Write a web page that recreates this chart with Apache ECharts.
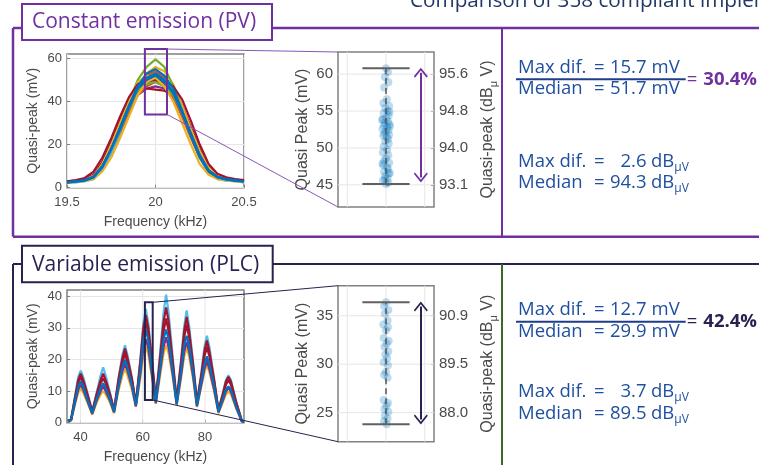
<!DOCTYPE html>
<html><head><meta charset="utf-8">
<script src="https://cdn.jsdelivr.net/npm/echarts@6.0.0/dist/echarts.min.js"></script>
<style>html,body{margin:0;padding:0;background:#fff;overflow:hidden}#chart{width:759px;height:465px}</style>
</head><body><div id="chart"></div>
<script>
// ================= DATA =================
// Constant emission (PV): frequency grid (kHz) and quasi-peak curves (mV)
const pvFreq = [19.50,19.55,19.60,19.65,19.70,19.75,19.80,19.85,19.90,19.95,20.00,20.05,20.10,20.15,20.20,20.25,20.30,20.35,20.40,20.45,20.50];
const pvCurveA = [3.0,3.3,3.8,6.0,12,21,31,41,47,50,51,49,46,38,28,18,10,6.0,4.5,3.8,3.3];
const pvCurveB = [2.8,3.0,3.5,5.0,9.0,17,26,36,47,53,56,54,48,38,27,17,9.0,5.0,4.0,3.8,3.2];
const pvCurveC = [3.0,3.2,3.8,5.5,11,19,29,39,48,52,54,51,46,36,26,16,9.0,5.5,4.0,3.5,3.0];
const pvCurveD = [2.7,3.0,3.4,5.0,10,19,29,40,50,56,59.5,56,47,37,26,16,8.5,5.0,4.0,3.4,3.0];
const pvCurveE = [2.5,2.8,3.2,4.5,9.0,16,25,35,43,46,47,46,42,34,24,14,7.0,4.5,3.8,3.2,2.8];
const pvCurveF = [2.2,2.5,3.0,4.0,8.5,16,25,35,44,48,50,48,43,34,24,14,7.0,4.0,3.3,3.0,2.5];
const pvCurveG = [2.8,3.2,3.8,5.8,11.5,20,30,39,45,46,45.5,45,43,36,27,17,9.0,5.5,4.2,3.6,3.1];
const pvCurveH = [2.6,3.0,3.5,5.0,9.0,17,26,35,43,47,49,47,42,33,23,14,7.5,4.8,3.9,3.4,3.0];
const pvCurveI = [3.0,3.2,3.8,5.5,11,20,30,40,49,52,51,50,45,37,27,17,9.5,5.5,4.2,3.6,3.2];
const pvCurveJ = [2.8,3.1,3.6,5.2,10,18,27,37,45,49,50,48,44,35,25,15,8.0,5.0,3.9,3.4,3.0];
const pvCurveK = [2.6,2.9,3.4,4.9,9.5,18,27,37,45,48,49,47,43,35,25,15,8.0,5.0,3.9,3.3,2.9];
const pvCurveP = [3.0,3.5,4.5,7.5,14,23,33,42,48,50,50,49,47,41,31,20,11,6.5,4.8,4.0,3.5];
const pvCurveQ = [2.3,2.6,3.0,4.0,7.5,14,23,33,43,49,51,47,40,30,20,11,6.0,4.0,3.3,2.9,2.5];
const pvCurveL = [2.4,2.8,3.2,4.6,9.0,17,27,37,46,51,52,50,44,35,25,15,8.0,4.8,3.6,3.1,2.7];
const pvCurveM = [2.5,2.8,3.3,4.8,9.5,18,28,38,47,53,55,52,46,36,25,15,8.0,5.0,3.8,3.3,2.9];
const pvCurveN = [2.5,2.9,3.4,5.0,10,18,28,38,47,51,53,50,44,35,24,14,7.5,4.8,3.8,3.3,2.9];
const pvCurveO = [2.5,3.0,3.5,5.0,10,18,27,37,46,50,52,49,44,35,25,15,8.0,5.0,4.0,3.5,3.0];
const pvCurves = [pvCurveA,pvCurveB,pvCurveC,pvCurveD,pvCurveE,pvCurveF,pvCurveG,pvCurveH,pvCurveI,pvCurveJ,pvCurveK,pvCurveP,pvCurveQ,pvCurveL,pvCurveM,pvCurveN,pvCurveO];
const pvCurveColors = ['red','yellow','orange','green','purple','cyan','red','orange','yellow','purple','green','red','yellow','cyan','blue','blue','blue'];

// Variable emission (PLC)
const plcFreq = [36.0,37.0, 38.2,39.3,40.1,40.9,42.4,43.8, 45.2,46.5,47.3,48.1,49.5,50.8, 52.2,53.5,54.3,55.1,56.5,57.8, 59.3,60.2,61.0,61.8,63.0,64.2, 65.6,66.7,67.5,68.3,69.6,70.9, 72.3,73.3,74.1,74.9,76.2,77.4, 78.8,79.8,80.6,81.4,82.9,84.3, 85.7,86.7,87.5,88.3,90.0,91.8, 92.5];
const plcCurveMax  = [0.6,1.0, 8,14.5,16.5,14.5,9,3.5, 9.5,15,17.5,15,9.5,4, 14,21.5,24.5,21.5,14.5,6, 21,31.5,36,31.5,20,7.5, 22.5,35,40.5,35,21,7, 20,30.5,35.5,30.5,19,6.5, 16,24,27.5,24,14,4, 9.5,13.5,15,13.5,6.5,0.6, 0.4];
const plcCurveLow  = [0.4,0.7, 5.5,9.5,10.8,9.5,6,2.6, 6.3,9,10,9,6.3,3, 10,15,17,15,10.5,5, 14.5,21.5,24,21.5,14,6, 15,22,24.6,22,14.5,5.5, 14,21,23.6,21,13.5,5, 11.5,16,18.3,16,10,3, 6.5,9,9.8,9,4.5,0.4, 0.3];
const plcCurvePur  = [0.5,0.8, 6,10.5,12,10.5,6.5,2.8, 7,10,11.5,10,7,3.3, 11,16.5,18.5,16.5,11.5,5.2, 16,23.5,26.5,23.5,15,6.2, 16.5,24,27,24,15.5,5.8, 15,22.5,25.5,22.5,14.5,5.2, 12,17,19.5,17,10.5,3.3, 7,9.8,11,9.8,4.8,0.4, 0.3];
const plcCurveHigh = [0.6,1.0, 7.5,13.5,15.5,13.5,8.5,3.5, 9,13.5,15.5,13.5,9,4, 13.5,20.5,23.5,20.5,14,6, 20,30,34,30,19,7.5, 21,32,36.5,32,19.5,7, 19,29,33.5,29,18,6.5, 15,22.5,26,22.5,13.5,4, 9,13,14.5,13,6.5,0.6, 0.4];
const plcCurveMidR = [0.5,0.9, 7,12.5,14.5,12.5,8,3.2, 8.5,12.5,14,12.5,8.5,3.8, 12.5,19,22,19,13.5,5.8, 19,28,32,28,18,7, 19.5,29,33,29,18.5,6.5, 18,27,31,27,17,6, 14.5,21,24,21,13,3.8, 8.5,12,13.5,12,6,0.5, 0.3];
const plcCurveMed  = [0.5,0.8, 6.5,11.5,13,11.5,7,3, 7.5,11,12.5,11,7.5,3.5, 11.5,17.5,20,17.5,12,5.5, 17,26,29.5,26,16,6.5, 17.5,26.5,29.5,26.5,16.5,6, 16,24.5,27.5,24.5,15.5,5.5, 13,18.5,21,18.5,11.5,3.5, 7.5,10.5,11.5,10.5,5,0.5, 0.3];
const plcCurves = [plcCurveMax,plcCurveLow,plcCurvePur,plcCurveHigh,plcCurveMidR,plcCurveMed];
const plcCurveColors = ['cyan','yellow','purple','red','red','blue'];

// Zoomed quasi-peak values (mV) at the boxed frequency, with small horizontal jitter
const pvQP  = [60.8,60.3,59.6,58.9,58.2,56.6,56.1,55.7,55.4,55.0,54.7,54.4,54.1,53.9,53.6,53.4,53.2,53.0,52.8,52.6,52.4,52.2,52.0,51.8,51.7,51.5,51.2,50.9,50.6,50.2,49.8,49.4,49.0,48.6,48.3,48.0,47.7,47.4,47.1,46.8,46.5,46.2,45.9,45.6,45.3,45.1,53.8,52.9,54.9,47.9,46.6,45.8];
const pvJit = [0.00,0.05,-0.03,0.06,-0.05,0.02,-0.07,0.08,-0.02,0.04,-0.06,0.07,0.01,-0.08,0.05,-0.03,0.09,-0.05,0.03,-0.09,0.06,0.00,-0.04,0.08,-0.07,0.02,0.05,-0.02,0.07,-0.06,0.03,-0.08,0.06,0.00,-0.04,0.08,-0.07,0.03,0.05,-0.05,0.07,-0.02,0.04,-0.08,0.06,0.00,-0.10,0.10,0.09,-0.09,0.10,-0.03];
const plcQP  = [36.4,36.0,35.6,35.2,34.5,34.1,33.8,33.5,32.7,32.4,32.1,31.8,31.3,31.0,30.6,30.2,29.9,29.2,28.9,28.6,26.3,26.0,25.7,25.4,25.1,24.7,24.4,24.1,23.8];
const plcJit = [0.00,-0.05,0.06,-0.03,0.04,-0.07,0.05,0.00,-0.06,0.07,0.02,-0.04,0.06,-0.02,0.03,-0.06,0.05,0.00,-0.05,0.04,-0.06,0.05,0.01,-0.04,0.06,-0.03,0.04,-0.05,0.02];
const pvRange  = [45.1, 60.8];
const plcRange = [23.8, 36.4];

// Tick labels
const pvXTicks = [19.5, 20, 20.5];
const pvYTicks = [0, 20, 40, 60];
const plcXTicks = [40, 60, 80];
const plcYTicks = [0, 10, 20, 30, 40];
const pvZoomTicks = [45, 50, 55, 60];
const pvZoomDbLabels = ['93.1', '94.0', '94.8', '95.6'];
const plcZoomTicks = [25, 30, 35];
const plcZoomDbLabels = ['88.0', '89.5', '90.9'];
const zoomGridX = [-1, 0, 1];

// Summary values
const pvSummary  = ['15.7', '51.7', '30.4%', '2.6', '94.3'];
const plcSummary = ['12.7', '29.9', '42.4%', '3.7', '89.5'];

// ================= STYLE / LAYOUT =================
const ML = {blue:'#0072BD', orange:'#D95319', yellow:'#EDB120', purple:'#7E2F8E', green:'#77AC30', cyan:'#4DBEEE', red:'#A2142F'};
const PURPLE = '#7030a0', NAVY = '#27224f', GREEN = '#3d6b1e', TXT_BLUE = '#1f4f9f', RULE_BLUE = '#1f3d8a';
const AXF = 'Liberation Sans', PF = '"Open Sans", "Noto Sans", sans-serif';
const TICK_C = '#4a4a4a', BOX_C = '#808080', GRID_C = '#e6e6e6';
const pvYMax = 62, plcYMax = 42, plcXMin = 35.7, plcXMax = 92.5;
const zXMin = -1.24, zXMax = 1.24;
const pvZY = [42, 63], plcZY = [22, 38.1];
const pvZoomBox = [19.94, 20.065, 34, 64.3];
const plcZoomBox = [60.7, 63.2, 7.2, 38.1];
const pvArrow = [60.2, 46.0], plcArrow = [35.95, 24.3];
const arrowX = 0.9, barHalf = 0.61;
const SF = 18.5;

const chart = echarts.init(document.getElementById('chart'), null, {renderer:'canvas'});

function gridBox(l, t, w, h) {
  return {left:l, top:t, width:w, height:h, show:true, borderColor:BOX_C, borderWidth:1.5, backgroundColor:'#fff', containLabel:false};
}
function valAxis(o) {
  return Object.assign({type:'value', axisLine:{show:false}, axisTick:{show:false}, axisLabel:{show:false}, splitLine:{show:false}}, o);
}
const lblStyle = (fs, customValues, margin) => ({show:true, customValues, color:TICK_C, fontSize:fs, fontFamily:AXF, margin});
const tickStyle = (customValues) => ({show:true, inside:true, length:3, customValues, lineStyle:{color:BOX_C, width:1}});
const nameStyle = (fs) => ({fontSize:fs, color:TICK_C, fontFamily:AXF});

const grids = [gridBox(67, 54, 177, 133.7), gridBox(338, 52, 96, 155), gridBox(67, 290, 177, 132.7), gridBox(338, 285.7, 96, 156)];

const xAxes = [
  valAxis({gridIndex:0, min:19.5, max:20.5, interval:0.5, axisTick:tickStyle(pvXTicks), axisLabel:lblStyle(13, pvXTicks, 8),
    splitLine:{show:true, lineStyle:{color:GRID_C}}, name:'Frequency (kHz)', nameLocation:'middle', nameGap:27, nameTextStyle:nameStyle(14)}),
  valAxis({gridIndex:1, min:zXMin, max:zXMax}),
  valAxis({gridIndex:2, min:plcXMin, max:plcXMax, axisTick:tickStyle(plcXTicks), axisLabel:lblStyle(13, plcXTicks, 8),
    name:'Frequency (kHz)', nameLocation:'middle', nameGap:27, nameTextStyle:nameStyle(14)}),
  valAxis({gridIndex:3, min:zXMin, max:zXMax})
];
const yAxes = [
  valAxis({gridIndex:0, min:0, max:pvYMax, interval:20, axisTick:tickStyle(pvYTicks), axisLabel:lblStyle(13, pvYTicks, 5),
    splitLine:{show:true, lineStyle:{color:GRID_C}}, name:'Quasi-peak (mV)', nameLocation:'middle', nameRotate:90, nameGap:27, nameTextStyle:nameStyle(14)}),
  valAxis({gridIndex:1, min:pvZY[0], max:pvZY[1], axisTick:tickStyle(pvZoomTicks), axisLabel:lblStyle(15, pvZoomTicks, 5),
    name:'Quasi Peak (mV)', nameLocation:'middle', nameRotate:90, nameGap:27, nameTextStyle:nameStyle(16)}),
  valAxis({gridIndex:1, position:'right', min:pvZY[0], max:pvZY[1], axisTick:tickStyle(pvZoomTicks),
    axisLabel:Object.assign(lblStyle(15, pvZoomTicks, 5), {formatter:v => pvZoomDbLabels[pvZoomTicks.indexOf(v)] || ''})}),
  valAxis({gridIndex:2, min:0, max:plcYMax, interval:10, axisTick:tickStyle(plcYTicks), axisLabel:lblStyle(13, plcYTicks, 5),
    splitLine:{show:true, lineStyle:{color:GRID_C}}, name:'Quasi-peak (mV)', nameLocation:'middle', nameRotate:90, nameGap:27, nameTextStyle:nameStyle(14)}),
  valAxis({gridIndex:3, min:plcZY[0], max:plcZY[1], axisTick:tickStyle(plcZoomTicks), axisLabel:lblStyle(15, plcZoomTicks, 5),
    name:'Quasi Peak (mV)', nameLocation:'middle', nameRotate:90, nameGap:27, nameTextStyle:nameStyle(16)}),
  valAxis({gridIndex:3, position:'right', min:plcZY[0], max:plcZY[1], axisTick:tickStyle(plcZoomTicks),
    axisLabel:Object.assign(lblStyle(15, plcZoomTicks, 5), {formatter:v => plcZoomDbLabels[plcZoomTicks.indexOf(v)] || ''})})
];

const series = [];
function segment(xi, yi, pts, color, width, type, z) {
  series.push({type:'line', xAxisIndex:xi, yAxisIndex:yi, data:pts, showSymbol:false, symbol:'none', silent:true, animation:false,
    lineStyle:{color, width, type: type || 'solid'}, z: z || 2});
}
// grid lines for zoom panels and PLC frequency axis
zoomGridX.forEach(x => { segment(1, 1, [[x, pvZY[0]], [x, pvZY[1]]], GRID_C, 1, 'solid', 1); segment(3, 4, [[x, plcZY[0]], [x, plcZY[1]]], GRID_C, 1, 'solid', 1); });
pvZoomTicks.forEach(y => segment(1, 1, [[zXMin, y], [zXMax, y]], GRID_C, 1, 'solid', 1));
plcZoomTicks.forEach(y => segment(3, 4, [[zXMin, y], [zXMax, y]], GRID_C, 1, 'solid', 1));
plcXTicks.forEach(x => segment(2, 3, [[x, 0], [x, plcYMax]], GRID_C, 1, 'solid', 1));

// emission curves
pvCurves.forEach((c, i) => segment(0, 0, pvFreq.map((f, j) => [f, c[j]]), ML[pvCurveColors[i]], 2.2));
plcCurves.forEach((c, i) => segment(2, 3, plcFreq.map((f, j) => [f, c[j]]), ML[plcCurveColors[i]], 2.2));

// scatter of quasi-peak values
series.push({type:'scatter', xAxisIndex:1, yAxisIndex:1, data:pvQP.map((v, i) => [pvJit[i % pvJit.length], v]), symbolSize:8,
  itemStyle:{color:'rgba(0,114,189,0.32)'}, silent:true, animation:false, z:3});
series.push({type:'scatter', xAxisIndex:3, yAxisIndex:4, data:plcQP.map((v, i) => [plcJit[i % plcJit.length], v]), symbolSize:8,
  itemStyle:{color:'rgba(0,114,189,0.32)'}, silent:true, animation:false, z:3});

const chevron = 'path://M0,0L10,10L8.4,11.6L0,3.2L-8.4,11.6L-10,10Z';
function rangeMarks(xi, yi, range, arrow, arrowColor) {
  series.push({type:'line', xAxisIndex:xi, yAxisIndex:yi, data:[[0, range[0]], [0, range[1]]], showSymbol:false, symbol:'none', silent:true, animation:false,
    lineStyle:{color:'#555', width:1.5, type:[6, 4]}, z:4,
    markLine:{silent:true, animation:false, symbol:[chevron, chevron], symbolSize:[14, 10], label:{show:false},
      lineStyle:{color:arrowColor, width:2, type:'solid'},
      data:[[{coord:[arrowX, arrow[0]]}, {coord:[arrowX, arrow[1]]}]]}});
  segment(xi, yi, [[-barHalf, range[1]], [barHalf, range[1]]], '#606060', 2, 'solid', 5);
  segment(xi, yi, [[-barHalf, range[0]], [barHalf, range[0]]], '#606060', 2, 'solid', 5);
}
rangeMarks(1, 1, pvRange, pvArrow, PURPLE);
rangeMarks(3, 4, plcRange, plcArrow, NAVY);

chart.setOption({animation:false, textStyle:{fontFamily:AXF}, grid:grids, xAxis:xAxes, yAxis:yAxes, series});

// ================= ANNOTATIONS =================
const px = (gi, v) => chart.convertToPixel({gridIndex: gi}, v);
const G = [];
const L = (x1, y1, x2, y2, stroke, w) => G.push({type:'line', silent:true, z:100, shape:{x1, y1, x2, y2}, style:{stroke, lineWidth:w}});
const R = (x, y, w, h, stroke, lw, fill) => G.push({type:'rect', silent:true, z:100, shape:{x, y, width:w, height:h}, style:{stroke, lineWidth:lw, fill: fill || 'none'}});
const T = (x, y, text, fill, fs, extra) => G.push({type:'text', silent:true, z:101, x, y,
  style:Object.assign({text, fill, fontSize:fs, fontFamily:PF, align:'left', verticalAlign:'middle'}, extra || {})});

// header title (cut by the top edge)
T(410, 1.5, 'Comparison of 358 compliant implementations', '#1f3864', 20.7);

// section frames
L(13, 28, 759, 28, PURPLE, 2.5); L(13, 28, 13, 236.7, PURPLE, 2.5); L(13, 236.7, 759, 236.7, PURPLE, 2.5); L(502, 28, 502, 236.7, PURPLE, 2);
R(22, 4, 250, 36, PURPLE, 2, '#fff'); T(32, 22, 'Constant emission (PV)', PURPLE, 21);
L(13, 264, 759, 264, NAVY, 2); L(13, 264, 13, 465, NAVY, 2); L(502, 264, 502, 465, GREEN, 2);
R(22, 245.7, 250.7, 36.6, NAVY, 2, '#fff'); T(32, 265.2, 'Variable emission (PLC)', NAVY, 21);

// zoom boxes and connectors
function zoomLinks(gi, box, zgi, zy, color, lineColor) {
  const a = px(gi, [box[0], box[3]]), b = px(gi, [box[1], box[2]]);
  R(a[0], a[1], b[0] - a[0], b[1] - a[1], color, 2);
  const c = px(zgi, [zXMin, zy[1]]), d = px(zgi, [zXMin, zy[0]]);
  L(b[0], a[1], c[0], c[1], lineColor, 1);
  L(b[0], b[1], d[0], d[1], lineColor, 1);
}
zoomLinks(0, pvZoomBox, 1, pvZY, PURPLE, '#8a55b8');
zoomLinks(2, plcZoomBox, 3, plcZY, NAVY, NAVY);

// right-axis names with subscript (rotated)
function dbName(cx, cy) {
  G.push({type:'text', silent:true, z:101, x:cx, y:cy, rotation:Math.PI / 2,
    style:{text:'{a|Quasi-peak (dB}{s|μ}{a| V)}', align:'center', verticalAlign:'middle', fill:TICK_C,
      rich:{a:{fontSize:16, fontFamily:AXF, fill:TICK_C, lineHeight:22}, s:{fontSize:11, fontFamily:AXF, fill:TICK_C, lineHeight:11, verticalAlign:'bottom'}}}});
}
dbName(488, 129.5);
dbName(488, 363.7);

// summary panels
function summary(vals, yMax, yMed, yRule, yPct, yMaxDb, yMedDb, pctColor) {
  const rows = [[yMax, 'Max dif.', vals[0], 'mV'], [yMed, 'Median', vals[1], 'mV']];
  rows.forEach(r => { T(518, r[0], r[1], TXT_BLUE, SF); T(594, r[0], '=', TXT_BLUE, SF); T(646.5, r[0], r[2], TXT_BLUE, SF, {align:'right'}); T(651.5, r[0], r[3], TXT_BLUE, SF); });
  L(516, yRule, 685.7, yRule, RULE_BLUE, 2);
  T(686.7, yPct, '=', pctColor, SF);
  T(703.3, yPct, vals[2], pctColor, SF, {fontWeight:'bold'});
  const dbRows = [[yMaxDb, 'Max dif.', vals[3]], [yMedDb, 'Median', vals[4]]];
  dbRows.forEach(r => {
    T(518, r[0], r[1], TXT_BLUE, SF); T(594, r[0], '=', TXT_BLUE, SF); T(646.5, r[0], r[2], TXT_BLUE, SF, {align:'right'});
    T(651, r[0], '{u|dB}{s|μV}', TXT_BLUE, SF, {rich:{u:{fontSize:SF, fontFamily:PF, fill:TXT_BLUE, lineHeight:24}, s:{fontSize:12, fontFamily:PF, fill:TXT_BLUE, lineHeight:12, verticalAlign:'bottom'}}});
  });
}
summary(pvSummary, 68, 89, 79.3, 79.7, 161.3, 183, PURPLE);
summary(plcSummary, 309.7, 332, 321.7, 321.3, 391.3, 413.7, NAVY);

chart.setOption({graphic: G});
</script>
</body></html>
